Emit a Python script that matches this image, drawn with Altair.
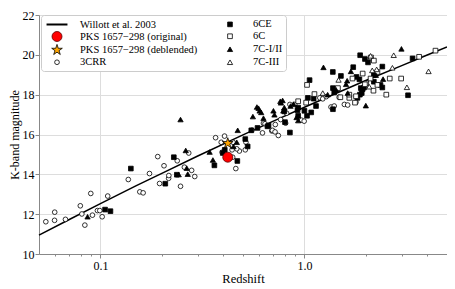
import altair as alt
import pandas as pd

# Willott et al. 2003 K-z relation
willott_z = [0.05, 0.07, 0.1, 0.15, 0.2, 0.3, 0.5, 0.7, 1.0, 1.5, 2.0, 3.0, 4.0, 5.0]
willott_k = [10.95, 11.72, 12.53, 13.43, 14.05, 14.92, 15.98, 16.66, 17.37, 18.16, 18.71, 19.46, 19.99, 20.39]

crr_z = [0.054, 0.0596, 0.0597, 0.0674, 0.0797, 0.0811, 0.0839, 0.0897, 0.0914, 0.0967,
         0.0993, 0.102, 0.1086, 0.137, 0.156, 0.162, 0.174, 0.191, 0.195, 0.205,
         0.216, 0.2165, 0.238, 0.247, 0.258, 0.271, 0.280, 0.290, 0.367, 0.391,
         0.395, 0.406, 0.445, 0.447, 0.461, 0.480, 0.513, 0.517, 0.553, 0.623,
         0.630, 0.641, 0.692, 0.697, 0.718, 0.720, 0.745, 0.765, 0.809, 0.818,
         0.849, 0.897, 0.967, 0.997, 1.19, 1.23, 1.28, 1.35, 1.40, 1.48,
         1.57, 1.63, 1.79, 0.442, 0.466]
crr_k = [11.62, 11.69, 12.10, 11.74, 12.42, 12.01, 11.45, 13.04, 11.95, 12.18,
         12.18, 11.87, 12.91, 13.74, 13.12, 13.07, 14.04, 14.89, 13.54, 14.43,
         13.80, 13.94, 14.68, 13.40, 14.36, 15.07, 14.20, 13.89, 15.84, 15.61,
         15.11, 15.92, 14.86, 15.61, 14.29, 15.17, 15.23, 15.61, 16.22, 16.08,
         16.57, 16.54, 16.18, 16.21, 16.13, 16.50, 15.95, 16.75, 16.57, 17.07,
         17.51, 17.51, 16.72, 16.67, 17.84, 17.79, 17.90, 17.38, 17.43, 17.87,
         17.51, 17.48, 17.62, 15.23, 15.28]

ce_z = [0.1054, 0.112, 0.141, 0.208, 0.229, 0.237, 0.398, 0.362, 0.407, 0.469,
        0.513, 0.527, 0.549, 0.589, 0.659, 0.667, 0.803, 0.849, 0.797, 0.925,
        0.932, 0.932, 1.0, 1.03, 1.04, 1.06, 1.08, 1.11, 1.14, 1.38,
        1.378, 1.38, 1.40, 1.51, 1.735, 1.80, 1.86, 1.82, 1.87, 1.91,
        1.89, 1.96, 1.876, 1.98, 2.05, 1.93, 2.19, 2.19, 2.36, 2.41,
        2.41, 3.22, 3.39]
ce_k = [12.23, 12.15, 14.29, 13.53, 14.86, 13.98, 15.07, 14.45, 15.23, 14.67,
        15.77, 15.40, 16.21, 16.33, 16.41, 16.45, 16.62, 16.10, 17.16, 17.22,
        16.94, 17.35, 17.19, 16.94, 17.84, 18.73, 17.11, 17.80, 17.43, 17.27,
        19.14, 18.33, 18.11, 18.94, 19.38, 18.89, 18.77, 17.84, 18.0, 18.08,
        18.33, 18.36, 19.98, 19.79, 19.62, 18.28, 18.98, 18.65, 18.49, 18.36,
        19.41, 17.97, 19.82]

sixc_z = [1.03, 1.02, 1.12, 0.932, 1.46, 1.50, 1.66, 1.66, 1.72, 1.79,
          1.77, 1.93, 2.01, 1.98, 2.11, 2.12, 2.19, 2.18, 2.28, 2.28,
          2.52, 2.62, 2.98, 3.65, 4.39]
sixc_k = [18.49, 17.60, 18.03, 17.67, 18.33, 17.87, 17.84, 18.0, 18.81, 17.92,
          17.60, 19.06, 18.57, 18.52, 18.81, 19.87, 19.71, 18.20, 19.14, 18.49,
          18.0, 18.81, 18.81, 19.90, 20.21]

c7_z = [0.0865, 0.247, 0.242, 0.262, 0.265, 0.268, 0.343, 0.356, 0.449, 0.466,
        0.471, 0.559, 0.585, 0.596, 0.603, 0.614, 0.630, 0.705, 0.713, 0.762,
        0.767, 0.782, 0.788, 0.797, 0.855, 0.884, 0.915, 0.932, 1.24, 1.30,
        1.43, 1.60, 1.62, 1.63, 1.69, 2.0, 2.24, 2.43, 2.99]
c7_k = [11.87, 16.75, 13.99, 15.20, 14.31, 14.01, 15.12, 14.72, 15.40, 15.61,
        16.21, 16.90, 17.38, 17.32, 17.19, 17.11, 16.82, 17.19, 16.99, 17.67,
        17.59, 17.71, 17.19, 17.35, 17.43, 17.53, 16.86, 16.70, 19.37, 18.0,
        18.24, 18.52, 18.70, 18.08, 19.17, 17.45, 18.98, 18.78, 20.30]

c7iii_z = [1.23, 1.47, 2.11, 2.74, 2.70, 3.18, 4.06, 2.26, 2.08, 2.15]
c7iii_k = [18.08, 18.74, 19.95, 19.98, 19.35, 18.37, 19.17, 19.27, 18.40, 19.22]

pks_z = [0.421]
pks_orig_k = [14.86]
pks_debl_k = [15.56]

S_W = "Willott et al. 2003"
S_O = "PKS 1657\u2212298 (original)"
S_D = "PKS 1657\u2212298 (deblended)"
S_3 = "3CRR"
S_6E = "6CE"
S_6C = "6C"
S_7 = "7C-I/II"
S_7I = "7C-III"

rows = []
for name, zs, ks in [(S_3, crr_z, crr_k), (S_6E, ce_z, ce_k), (S_6C, sixc_z, sixc_k),
                     (S_7, c7_z, c7_k), (S_7I, c7iii_z, c7iii_k),
                     (S_O, pks_z, pks_orig_k), (S_D, pks_z, pks_debl_k)]:
    for z, k in zip(zs, ks):
        rows.append({"series": name, "z": z, "k": k})
pts = pd.DataFrame(rows)
line_df = pd.DataFrame({"z": willott_z, "k": willott_k})

star = "M0,-1L0.2245,-0.309L0.951,-0.309L0.363,0.118L0.588,0.809L0,0.382L-0.588,0.809L-0.363,0.118L-0.951,-0.309L-0.2245,-0.309Z"
dash = "M-2.4,0L2.4,0"

# legend fills column by column
dom = [S_W, S_O, S_D, S_3, S_6E, S_6C, S_7, S_7I]
shapes = [dash, "circle", star, "circle", "square", "square", "triangle-up", "triangle-up"]
fills = ["black", "red", "orange", "white", "black", "white", "black", "white"]
strokes = ["black", "#5a0000", "black", "black", "black", "black", "black", "black"]
sizes = [76, 100, 125, 22, 22, 22, 28, 28]
widths = [2, 0.8, 0.8, 0.8, 0.8, 0.8, 0.8, 0.8]

SERIF = "Liberation Serif"
leg = alt.Legend(title=None, orient="none", legendX=2, legendY=0, columns=2,
                 labelFont=SERIF, labelFontSize=10.5, fillColor="white",
                 strokeColor="#cccccc", padding=3, cornerRadius=3,
                 rowPadding=-2, columnPadding=19, symbolOpacity=1,
                 symbolOffset=7, labelOffset=17, gridAlign="all",
                 labelLimit=400, labelColor="black")

minor = [0.06, 0.07, 0.08, 0.09, 0.1, 0.2, 0.3, 0.4, 0.5, 0.6, 0.7, 0.8, 0.9, 1.0, 2.0, 3.0, 4.0, 5.0]
major_test = "datum.value == 0.1 || datum.value == 1"
xaxis = alt.Axis(values=minor, title="Redshift",
                 labelExpr="datum.value == 0.1 ? '0.1' : (datum.value == 1 ? '1.0' : '')",
                 gridOpacity={"condition": {"test": major_test, "value": 1}, "value": 0},
                 tickSize={"condition": {"test": major_test, "value": 4}, "value": 2},
                 titleFont=SERIF, titleFontSize=12.5, titleFontWeight="normal",
                 labelFont=SERIF, labelFontSize=12, titlePadding=1, labelPadding=2)
xs = alt.Scale(type="log", domain=[0.05, 5], nice=False)
ys = alt.Scale(domain=[10, 22], nice=False, zero=False)
yaxis = alt.Axis(values=[10, 12, 14, 16, 18, 20, 22], title="K-band magnitude", tickSize=4,
                 titleFont=SERIF, titleFontSize=12, titleFontWeight="normal",
                 labelFont=SERIF, labelFontSize=12, titlePadding=1, labelPadding=1)

line = alt.Chart(line_df).mark_line(color="black", strokeWidth=1.5).encode(
    x=alt.X("z:Q", scale=xs, axis=xaxis),
    y=alt.Y("k:Q", scale=ys, axis=yaxis),
)

points = alt.Chart(pts).mark_point(filled=True, opacity=1).encode(
    x=alt.X("z:Q", scale=xs, axis=xaxis),
    y=alt.Y("k:Q", scale=ys, axis=yaxis),
    shape=alt.Shape("series:N", scale=alt.Scale(domain=dom, range=shapes), legend=leg),
    fill=alt.Fill("series:N", scale=alt.Scale(domain=dom, range=fills), legend=leg),
    stroke=alt.Stroke("series:N", scale=alt.Scale(domain=dom, range=strokes), legend=leg),
    size=alt.Size("series:N", scale=alt.Scale(type="ordinal", domain=dom, range=sizes), legend=leg),
    strokeWidth=alt.StrokeWidth("series:N", scale=alt.Scale(type="ordinal", domain=dom, range=widths), legend=leg),
)

chart = alt.layer(line, points).properties(
    width=408, height=239,
    autosize=alt.AutoSizeParams(type="none"),
    padding={"left": 31, "top": 7, "right": 0, "bottom": 35},
).configure_view(stroke="#333333", strokeWidth=1.2).configure_axis(
    labelColor="black", titleColor="black",
    gridColor="#e4e4e4", gridWidth=1, domainColor="#333333", tickColor="#333333",
).configure(background="white")

chart.save("out.html", embed_options={"renderer": "svg", "actions": False})
